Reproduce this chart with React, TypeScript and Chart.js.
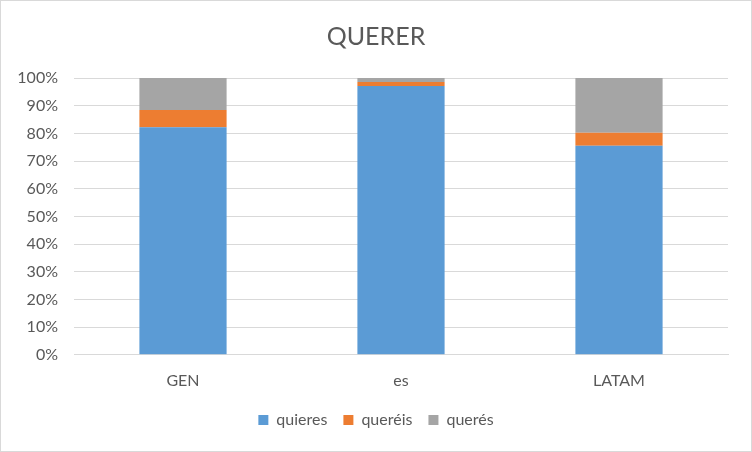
import React, { useEffect, useRef } from "react";
import { Chart, registerables } from "chart.js";

Chart.register(...registerables);

const categories = ["GEN", "es", "LATAM"];
const quieres = [82.2, 97.1, 75.5];
const quereis = [6.2, 1.5, 4.7];
const queres = [11.6, 1.4, 19.8];
const yTicks = [0, 10, 20, 30, 40, 50, 60, 70, 80, 90, 100];

const FONT = "Lato, 'Open Sans', sans-serif";
const TXT = "#595959";

export default function App() {
  const ref = useRef<HTMLCanvasElement | null>(null);
  useEffect(() => {
    document.body.style.margin = "0";
    const ctx = ref.current!.getContext("2d")!;
    const chart = new Chart(ctx, {
      type: "bar",
      data: {
        labels: categories,
        datasets: [
          { label: "quieres", data: quieres, backgroundColor: "#5B9BD5" },
          { label: "queréis", data: quereis, backgroundColor: "#ED7D31" },
          { label: "querés", data: queres, backgroundColor: "#A5A5A5" },
        ],
      },
      options: {
        responsive: false,
        animation: false,
        devicePixelRatio: 1,
        layout: { padding: { left: 0, right: 0, top: 0, bottom: 13 } },
        datasets: { bar: { categoryPercentage: 1, barPercentage: 0.4 } },
        plugins: {
          title: {
            display: true,
            text: "QUERER",
            color: TXT,
            font: { family: FONT, size: 25, weight: "normal" },
            padding: { top: 21, bottom: 26 },
          },
          legend: {
            position: "bottom",
            labels: {
              color: TXT,
              font: { family: FONT, size: 16 },
              boxWidth: 10,
              boxHeight: 10,
              padding: 16,
            },
          },
          tooltip: { enabled: false },
        },
        scales: {
          x: {
            stacked: true,
            grid: { display: false, drawTicks: false },
            border: { display: true, color: "#D9D9D9" },
            ticks: { color: TXT, font: { family: FONT, size: 16 }, padding: 16 },
            afterFit: (s: any) => {
              s.height = s.height - 10;
            },
          },
          y: {
            stacked: true,
            min: 0,
            max: 100,
            afterBuildTicks: (s: any) => {
              s.ticks = yTicks.map((v) => ({ value: v }));
            },
            afterFit: (s: any) => {
              s.width = 73;
            },
            grid: { color: "#D9D9D9", drawTicks: false },
            border: { display: false },
            ticks: {
              color: TXT,
              font: { family: FONT, size: 16 },
              padding: 16,
              callback: (v: any) => v + "%",
            },
          },
          yRight: {
            position: "right",
            display: true,
            grid: { display: false, drawTicks: false },
            border: { display: false },
            ticks: { display: false },
            afterFit: (s: any) => {
              s.width = 23;
            },
          },
        },
      },
    });
    return () => chart.destroy();
  }, []);
  return (
    <div
      style={{
        position: "fixed",
        left: 0,
        top: 0,
        width: 750,
        height: 450,
        border: "1px solid #D9D9D9",
        background: "#fff",
      }}
    >
      <canvas ref={ref} width={750} height={450} />
    </div>
  );
}
